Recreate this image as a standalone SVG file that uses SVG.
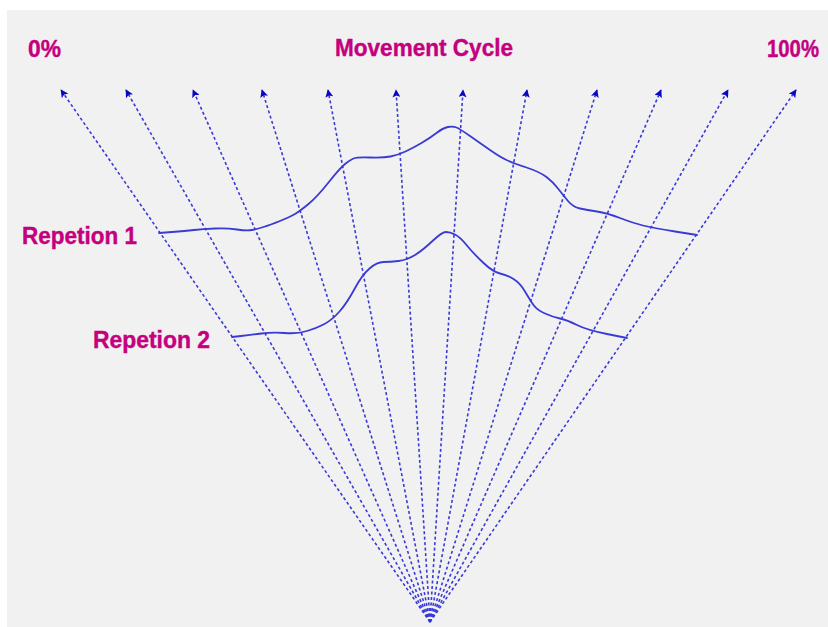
<svg xmlns="http://www.w3.org/2000/svg" width="828" height="627" viewBox="0 0 828 627">
<style>
.lbl{font-family:"Liberation Sans",Arial,sans-serif;font-weight:bold;font-size:24px;fill:#c4007e;stroke:#c4007e;stroke-width:0.4}
.ray{stroke:#3a3ad8;stroke-width:1.6;stroke-dasharray:3 2.5;fill:none;marker-end:url(#ah)}
.curve{stroke:#3a3ad4;stroke-width:1.8;fill:none;stroke-linejoin:round;stroke-linecap:round}
</style>
<defs>
<marker id="ah" viewBox="0 0 10 10" refX="9" refY="5" markerWidth="9" markerHeight="8" markerUnits="userSpaceOnUse" orient="auto">
<path d="M0,0 L10,5 L0,10 L2,5 Z" fill="#0808c4"/>
</marker>
</defs>
<rect x="0" y="0" width="828" height="627" fill="#ffffff"/>
<rect x="7" y="10" width="821" height="617" fill="#f1f1f1"/>
<g id="labels">
<text id="t0" class="lbl" x="28" y="57" textLength="33" lengthAdjust="spacingAndGlyphs">0%</text>
<text id="title" class="lbl" x="335" y="56" textLength="178" lengthAdjust="spacingAndGlyphs">Movement Cycle</text>
<text id="t100" class="lbl" x="767" y="57" textLength="52" lengthAdjust="spacingAndGlyphs">100%</text>
</g>
<g id="connectors">
<line class="ray" x1="430" y1="622" x2="61" y2="90"/>
<line class="ray" x1="430" y1="622" x2="126" y2="90"/>
<line class="ray" x1="430" y1="622" x2="193" y2="90"/>
<line class="ray" x1="430" y1="622" x2="262" y2="90"/>
<line class="ray" x1="430" y1="622" x2="328" y2="90"/>
<line class="ray" x1="430" y1="622" x2="396" y2="90"/>
<line class="ray" x1="430" y1="622" x2="463" y2="90"/>
<line class="ray" x1="430" y1="622" x2="527" y2="90"/>
<line class="ray" x1="430" y1="622" x2="597" y2="90"/>
<line class="ray" x1="430" y1="622" x2="661" y2="90"/>
<line class="ray" x1="430" y1="622" x2="728" y2="90"/>
<line class="ray" x1="430" y1="622" x2="796" y2="90"/>
</g>
<g id="repetion1">
<text class="lbl" x="22" y="244" textLength="115" lengthAdjust="spacingAndGlyphs">Repetion 1</text>
<path class="curve" d="M159,233 L172,232 Q185,231 194,230 Q203,229 215,228.5 Q227,228 237,229.5 Q247,231 252,230 Q257,229 263.5,227 Q270,225 280,221 Q290,217 295,214 Q300,211 308.5,204 Q317,197 328.5,182.5 Q340,168 345,164 Q350,160 353.5,158.5 Q357,157 370,157.5 Q383,158 390.5,156.5 Q398,155 405.5,151.5 Q413,148 421.5,143 Q430,138 436.5,133 Q443,128 448,127 Q453,126 456.5,127.5 Q460,129 470,136 Q480,143 490,150 Q500,157 506.5,160 Q513,163 526.5,167.5 Q540,172 546.5,177 Q553,182 558,188.5 Q563,195 568,201 Q573,207 580,208.5 Q587,210 597,211.5 Q607,213 620,218 Q633,223 643,225.5 Q653,228 675,231.5 L697,235"/>
</g>
<g id="repetion2">
<text class="lbl" x="93" y="348" textLength="117" lengthAdjust="spacingAndGlyphs">Repetion 2</text>
<path class="curve" d="M232,337 L241,336 Q250,335 261.5,333.5 Q273,332 285,333 Q297,334 307,331 Q317,328 324.5,324 Q332,320 339.5,311.5 Q347,303 354.5,289 Q362,275 369.5,268.5 Q377,262 383.5,262 Q390,262 398.5,261 Q407,260 415,255 Q423,250 432.5,241 Q442,232 446,232 Q450,232 455,234.5 Q460,237 466.5,245 Q473,253 483,262.5 Q493,272 500,273.5 Q507,275 513.5,279 Q520,283 525,291.5 Q530,300 533.5,305 Q537,310 545,313.5 Q553,317 560,318.5 Q567,320 577,325 Q587,330 607,334 L627,338"/>
</g>
</svg>
